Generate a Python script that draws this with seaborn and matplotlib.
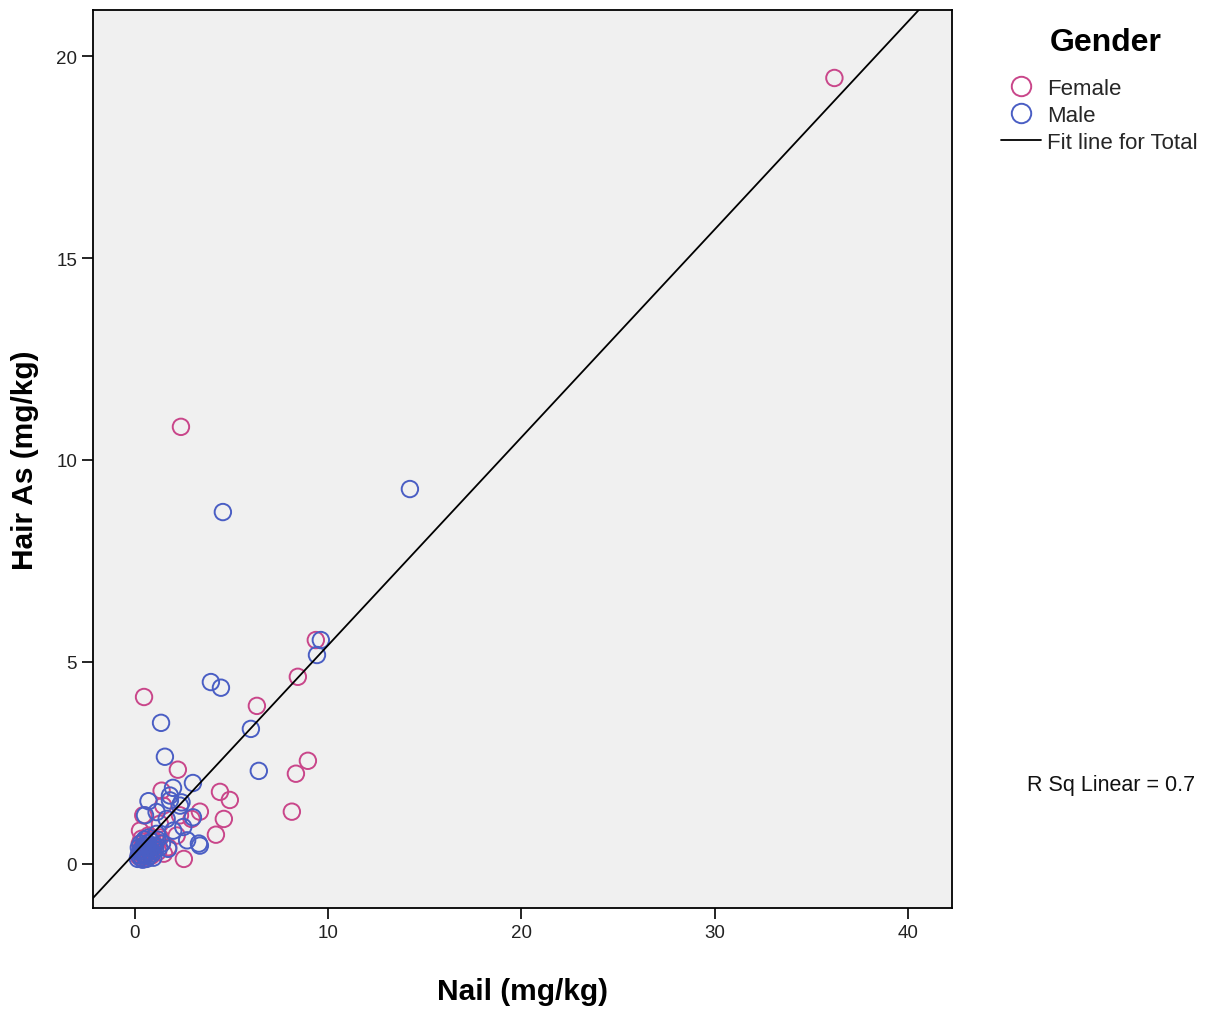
import numpy as np
import pandas as pd
import seaborn as sns
import matplotlib.pyplot as plt
from matplotlib.lines import Line2D

# Data (Nail vs Hair arsenic, mg/kg)
female_nail = [36.2, 2.38, 0.47, 8.43, 6.31, 9.36, 8.95, 8.33, 8.12, 4.40,
               4.91, 4.60, 4.19, 2.22, 3.36, 2.53, 1.38, 0.43, 0.34, 0.26,
               1.72, 2.16, 2.93, 2.33, 1.29, 0.86, 1.46,
               0.20, 0.30, 0.35, 0.45, 0.50, 0.60, 0.65, 0.75, 0.80, 0.90,
               1.00, 1.10, 1.20, 1.30, 0.25, 0.55, 0.70, 1.50, 0.40, 0.85]
female_hair = [19.46, 10.82, 4.13, 4.63, 3.91, 5.54, 2.55, 2.23, 1.29, 1.78,
               1.58, 1.11, 0.72, 2.33, 1.29, 0.12, 1.81, 1.20, 0.62, 0.82,
               0.41, 0.70, 1.11, 1.20, 0.99, 0.62, 1.44,
               0.18, 0.25, 0.40, 0.30, 0.55, 0.35, 0.50, 0.28, 0.45, 0.60,
               0.40, 0.55, 0.30, 0.65, 0.50, 0.20, 0.70, 0.25, 0.15, 0.20]

male_nail = [14.23, 4.55, 9.62, 9.42, 3.93, 4.45, 6.00, 1.35, 1.55, 6.41,
             3.00, 0.70, 1.97, 3.31, 0.52, 1.12, 1.81, 2.41, 1.64, 2.50,
             2.70, 1.12, 1.98, 0.52, 3.36, 1.72, 1.81, 2.33, 3.00,
             0.15, 0.20, 0.25, 0.30, 0.35, 0.40, 0.45, 0.50, 0.55, 0.60,
             0.65, 0.70, 0.75, 0.80, 0.85, 0.90, 1.00, 1.05, 1.15, 1.25,
             0.30, 0.50, 0.20, 0.40, 0.60, 0.95, 1.40, 0.70]
male_hair = [9.28, 8.71, 5.54, 5.17, 4.50, 4.36, 3.34, 3.49, 2.65, 2.30,
             2.00, 1.55, 1.88, 0.50, 1.20, 1.28, 1.57, 1.52, 1.11, 0.91,
             0.58, 0.74, 0.82, 0.45, 0.45, 0.37, 1.69, 1.44, 1.15,
             0.12, 0.22, 0.30, 0.15, 0.35, 0.25, 0.45, 0.20, 0.38, 0.28,
             0.50, 0.18, 0.40, 0.30, 0.55, 0.25, 0.45, 0.35, 0.60, 0.40,
             0.50, 0.60, 0.40, 0.10, 0.12, 0.15, 0.50, 0.65]

df = pd.DataFrame({
    'nail': female_nail + male_nail,
    'hair': female_hair + male_hair,
    'gender': ['Female'] * len(female_nail) + ['Male'] * len(male_nail),
})

pink = '#C9468A'
blue = '#4A5EC4'

sns.set_theme(style='white')
plt.rcParams['font.family'] = ['Liberation Sans', 'DejaVu Sans']

fig = plt.figure(figsize=(12.24, 10.12), dpi=100)
ax = fig.add_axes([0.076, 0.102, 0.702, 0.887])
ax.set_facecolor('#F0F0F0')
ax.set_xlim(-2.17, 42.3)
ax.set_ylim(-1.09, 21.14)

sns.scatterplot(data=df, x='nail', y='hair', hue='gender',
                palette={'Female': pink, 'Male': blue},
                marker='o', s=140, linewidth=1.4, legend=False, ax=ax)
# open circles like the original
coll = ax.collections[0]
ec = coll.get_facecolors()
coll.set_facecolors('none')
coll.set_edgecolors(ec)

sns.regplot(data=df, x='nail', y='hair', scatter=False, ci=None,
            truncate=False, color='black', line_kws={'linewidth': 1.3},
            ax=ax)

ax.set_xticks([0, 10, 20, 30, 40])
ax.set_yticks([0, 5, 10, 15, 20])
ax.tick_params(axis='both', direction='out', length=8, width=1.2,
               labelsize=13.5, color='black', labelcolor='#222222',
               bottom=True, left=True)
for s in ax.spines.values():
    s.set_color('black')
    s.set_linewidth(1.3)

ax.set_xlabel('Nail (mg/kg)', fontsize=21.5, fontweight='bold',
              color='black', labelpad=26)
ax.set_ylabel('Hair As (mg/kg)', fontsize=21.5, fontweight='bold',
              color='black', labelpad=12)

handles = [
    Line2D([], [], marker='o', linestyle='none', markerfacecolor='none',
           markeredgecolor=pink, markersize=14, markeredgewidth=1.4),
    Line2D([], [], marker='o', linestyle='none', markerfacecolor='none',
           markeredgecolor=blue, markersize=14, markeredgewidth=1.4),
    Line2D([], [], color='black', linewidth=1.3),
]
fig.text(0.903, 0.958, 'Gender', fontsize=23, fontweight='bold',
         ha='center', va='center', color='black')
fig.legend(handles, ['Female', 'Male', 'Fit line for Total'],
           loc='upper left', bbox_to_anchor=(0.818, 0.922), frameon=False,
           fontsize=16, handlelength=1.8, handletextpad=0.25,
           labelspacing=0.27, borderaxespad=0, borderpad=0)

fig.text(0.908, 0.224, 'R Sq Linear = 0.7', fontsize=15.5, ha='center',
         va='center', color='#111111')

fig.savefig('out.png', dpi=100, facecolor='white')
